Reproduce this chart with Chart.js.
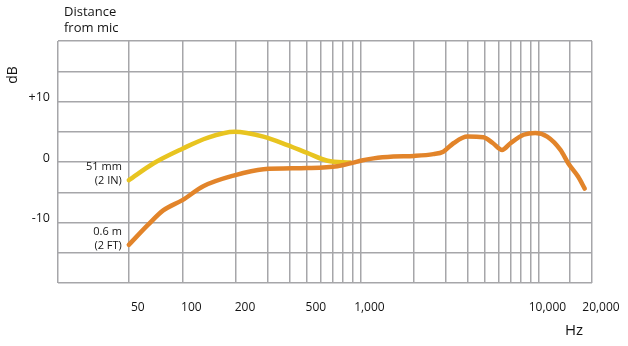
<!DOCTYPE html>
<html>
<head>
<meta charset="utf-8">
<script src="https://cdn.jsdelivr.net/npm/chart.js@4"></script>
<style>
  html, body { margin: 0; padding: 0; background: #fff; }
  #wrap { width: 628px; height: 346px; }
</style>
</head>
<body>
<div id="wrap"><canvas id="myChart" width="628" height="346"></canvas></div>
<script>
/* 51 mm (2 IN) curve */
const freqs51 = [50, 69, 100, 138, 196, 285, 389, 502, 654, 878];
const db51 = [-3.0, -0.2, 2.2, 4.0, 5.0, 4.2, 2.8, 1.5, 0.2, -0.1];

/* 0.6 m (2 FT) curve */
const freqs06 = [50, 64, 78, 100, 131, 196, 285, 502, 742, 912, 1000, 1185, 1530, 2000, 2570, 2920, 3330, 3990, 4900, 5560, 6250, 6960, 8260, 9600, 11200, 13300, 14700, 16700, 18200];
const db06 = [-13.7, -10.4, -8.0, -6.3, -4.0, -2.2, -1.2, -1.0, -0.7, -0.1, 0.2, 0.6, 0.9, 1.0, 1.3, 1.7, 3.1, 4.2, 4.1, 3.1, 2.0, 3.1, 4.5, 4.8, 4.2, 2.0, -0.2, -2.4, -4.4];

const seriesNames = [['51 mm', '(2 IN)'], ['0.6 m', '(2 FT)']];

/* grid lines and tick labels */
const gridFreqs = [20, 50, 100, 200, 300, 400, 500, 600, 700, 800, 900, 1000, 2000, 3000, 4000, 5000, 6000, 7000, 8000, 9000, 10000, 15000, 20000];
const xLabelValues = [50, 100, 200, 500, 1000, 10000, 20000];
const yLabelValues = [10, 0, -10];
const yLabelTexts = ['+10', '0', '-10'];

const app = {
  toPoints: function (xs, ys) {
    return xs.map(function (x, i) { return {x: x, y: ys[i]}; });
  },

  textPlugin: {
    id: 'textPlugin',
    afterDraw: function (chart) {
      const ctx = chart.ctx;
      ctx.save();
      ctx.fillStyle = '#141414';
      ctx.textBaseline = 'middle';

      ctx.font = '13px "Open Sans"';
      ctx.textAlign = 'left';
      ctx.fillText('Distance', 64, 12);
      ctx.fillText('from mic', 64, 28);

      ctx.font = '15px "Open Sans"';
      ctx.textAlign = 'center';
      ctx.fillText('Hz', 574, 331);

      ctx.save();
      ctx.translate(13, 75);
      ctx.rotate(-Math.PI / 2);
      ctx.font = '14px "Open Sans"';
      ctx.fillText('dB', 0, 0);
      ctx.restore();

      /* curve names next to the first point of each line */
      ctx.font = '11px "Liberation Sans Narrow", "Open Sans"';
      ctx.textAlign = 'right';
      chart.data.datasets.forEach(function (ds, i) {
        const first = chart.getDatasetMeta(i).data[0];
        ctx.fillText(seriesNames[i][0], first.x - 7, first.y - 13);
        ctx.fillText(seriesNames[i][1], first.x - 7, first.y + 1);
      });
      ctx.restore();
    }
  },

  renderChart: function () {
    const ctx = document.getElementById('myChart').getContext('2d');
    const gridColor = '#a6a6a9';

    // eslint-disable-next-line no-undef
    const chart = new Chart(ctx, {
      type: 'line',
      data: {
        datasets: [{
          label: '51 mm (2 IN)',
          data: app.toPoints(freqs51, db51),
          borderColor: '#e8c420',
          order: 1,
        },
        {
          label: '0.6 m (2 FT)',
          data: app.toPoints(freqs06, db06),
          borderColor: '#e2842a',
          order: 0,
        }]
      },
      options: {
        responsive: false,
        animation: false,
        layout: { padding: { top: 41, right: 36, left: 0, bottom: 0 } },
        elements: {
          point: { radius: 0, hoverRadius: 0 },
          line: {
            borderWidth: 4.5,
            borderCapStyle: 'round',
            borderJoinStyle: 'round',
            cubicInterpolationMode: 'monotone',
            fill: false,
          }
        },
        plugins: {
          legend: { display: false },
          tooltip: { enabled: false },
        },
        scales: {
          x: {
            type: 'logarithmic',
            min: 20,
            max: 20000,
            afterBuildTicks: function (scale) {
              scale.ticks = gridFreqs.map(function (v) { return {value: v}; });
            },
            afterFit: function (scale) { scale.height = 63; },
            border: { display: false },
            grid: { color: gridColor, lineWidth: 1.5, drawTicks: false },
            ticks: {
              autoSkip: false,
              maxRotation: 0,
              padding: 17,
              labelOffset: 9,
              color: '#141414',
              font: { family: '"Open Sans"', size: 12 },
              callback: function (value) {
                return xLabelValues.indexOf(value) === -1 ? '' : value.toLocaleString('en-US');
              }
            }
          },
          y: {
            type: 'linear',
            min: -20,
            max: 20,
            afterFit: function (scale) { scale.width = 58; },
            border: { display: false },
            grid: { color: gridColor, lineWidth: 1.5, drawTicks: false },
            ticks: {
              stepSize: 5,
              padding: 8,
              labelOffset: -4,
              color: '#141414',
              font: { family: '"Open Sans"', size: 12.5 },
              callback: function (value) {
                const idx = yLabelValues.indexOf(value);
                return idx === -1 ? '' : yLabelTexts[idx];
              }
            }
          }
        }
      },
      plugins: [app.textPlugin]
    });
    return chart;
  },

  init: function () {
    app.renderChart();
  }
};

app.init();
</script>
</body>
</html>
